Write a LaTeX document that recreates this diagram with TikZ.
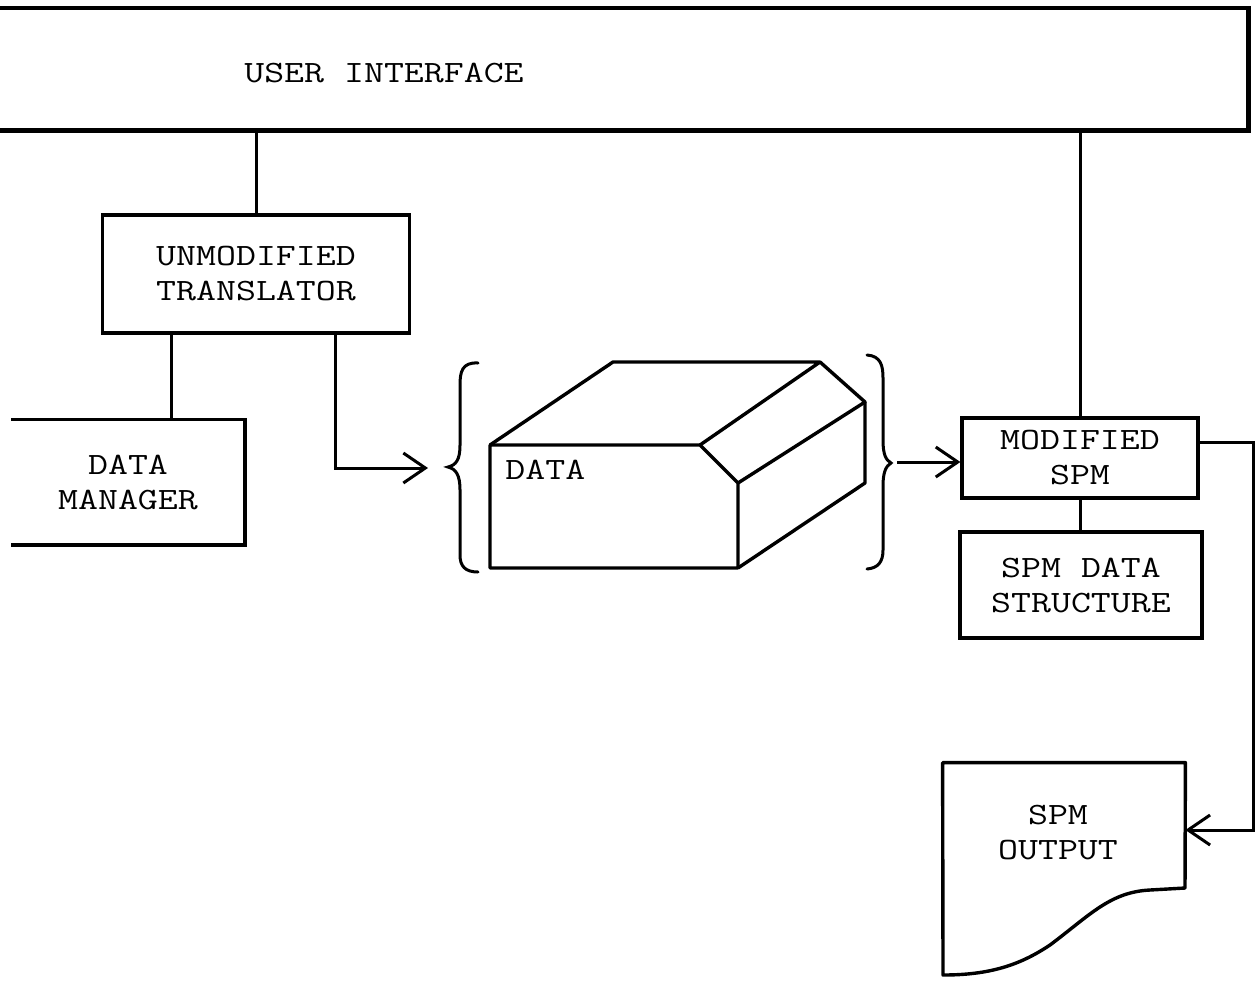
\documentclass[tikz,border=0pt]{standalone}
\usepackage{fontspec}
\setmonofont[FakeStretch=1.25]{Latin Modern Mono}
\usetikzlibrary{arrows.meta,calc}

\begin{document}
\begin{tikzpicture}[x=0.5pt,y=-0.5pt,
  txt/.style={font=\ttfamily\fontsize{15.5}{17.5}\selectfont, align=center, inner sep=0pt},
  box/.style={txt, draw, line width=1.6pt, rectangle},
  wire/.style={line width=1.5pt},
  arr/.style={wire, -{Straight Barb[length=11pt,width=15pt,line width=1.5pt]}},
  bar/.style={line width=2.4pt},
  solid3d/.style={line width=1.7pt, line join=round},
  brace/.style={line width=1.5pt, line cap=round},
]
\useasboundingbox (0,0) rectangle (1256,980);

% user interface bar, open on the left
\node[minimum width=624pt, minimum height=61pt, anchor=north west, inner sep=0pt] (ui) at (0,8) {};
\draw[bar] (ui.north west) -- (ui.north east) -- (ui.south east) -- (ui.south west);
\node[txt] (uitext) at (384,73) {USER INTERFACE};

% boxes
\node[box, minimum width=153.5pt, minimum height=59pt] (trans) at (256,274) {UNMODIFIED\\TRANSLATOR};
\node[txt, minimum width=116.5pt, minimum height=62.5pt] (dm) at (128,482) {DATA\\MANAGER};
\draw[line width=1.6pt] (dm.north west) -- (dm.north east) -- (dm.south east) -- (dm.south west);
\node[box, minimum width=118pt, minimum height=40pt] (mspm) at (1080,458) {MODIFIED\\SPM};
\node[box, minimum width=121pt, minimum height=53pt] (sds) at (1081,585) {SPM DATA\\STRUCTURE};

% data store drawn as a block with a bevelled edge
\draw[solid3d] (490,445) -- (700,445) -- (738,483) -- (738,568) -- (490,568) -- cycle;
\draw[solid3d] (490,445) -- (613,362) -- (820,362) -- (700,445);
\draw[solid3d] (820,362) -- (865,402) -- (738,483);
\draw[solid3d] (865,402) -- (865,483) -- (738,568);
\node[txt, anchor=west] (datalbl) at (505,470) {DATA};

% braces around the data store
\draw[brace] (478,363) .. controls (462,362) and (460,372) .. (460,385) -- (460,445)
  .. controls (460,460) and (456,465) .. (448,467)
  .. controls (456,469) and (460,475) .. (460,490) -- (460,555)
  .. controls (460,566) and (465,572) .. (478,572);
\draw[brace] (867,355) .. controls (881,356) and (883,366) .. (883,378) -- (883,440)
  .. controls (883,455) and (886,460) .. (891,463)
  .. controls (886,466) and (883,472) .. (883,486) -- (883,550)
  .. controls (883,562) and (878,568) .. (867,569);

% printed output sheet
\node[minimum width=121pt, minimum height=106pt, inner sep=0pt] (out) at (1064,869) {};
\draw[solid3d] (out.north west) -- (out.north east) -- (1185,888) -- (1150,890)
  .. controls (1110,892) and (1090,915) .. (1050,945)
  .. controls (1020,965) and (990,975) .. (943,975) -- cycle;
\node[txt] (outtext) at (1058,833) {SPM\\OUTPUT};

% connectors
\draw[wire] (trans.north) -- (trans.north |- ui.south);
\draw[wire] (mspm.north) -- (mspm.north |- ui.south);
\coordinate (tdm) at (171,0);
\draw[wire] (trans.south -| tdm) -- (dm.north -| tdm);
\coordinate (tdata) at (335,0);
\coordinate (datain) at (428,468);
\draw[arr] (trans.south -| tdata) |- (datain);
\coordinate (dataout) at (897,462);
\draw[arr] (dataout) -- (dataout -| mspm.west);
\draw[wire] (mspm.south) -- (mspm.south |- sds.north);
\coordinate (mout) at ($(mspm.east)+(0,-16)$);
\coordinate (oy) at (0,830);
\draw[arr] (mout) -- ++(54,0) |- (out.east |- oy);
\end{tikzpicture}
\end{document}
